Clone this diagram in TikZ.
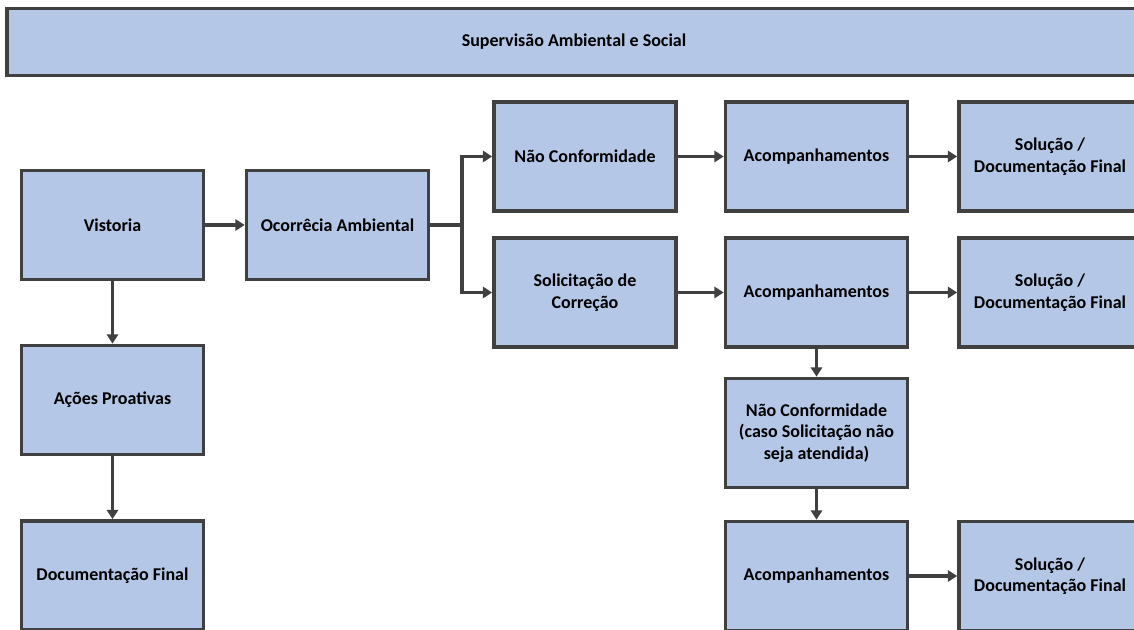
\documentclass[tikz,border=0pt]{standalone}
\usepackage{fontspec}
\setmainfont{Carlito}
\usetikzlibrary{arrows.meta}
\definecolor{boxfill}{HTML}{B4C7E7}
\definecolor{boxline}{HTML}{404040}
\tikzset{
  box/.style={draw=boxline, fill=boxfill, line width=2.8pt, minimum width=182*0.75pt, minimum height=109*0.75pt, inner sep=2pt, align=center, font=\fontsize{13.5}{16.2}\selectfont\bfseries, text=black},
  arr/.style={draw=boxline, line width=2.6pt, -{Triangle[length=7pt,width=8.5pt]}},
  lin/.style={draw=boxline, line width=2.6pt}
}
\begin{document}
\begin{tikzpicture}[x=0.75pt,y=-0.75pt]
\useasboundingbox (0,0) rectangle (1134,630);
\clip (0,0) rectangle (1134,630);
\fill[white] (0,0) rectangle (1134,630);
\node[box, minimum width=1134*0.75pt, minimum height=67*0.75pt] (bar) at (574,42) {Supervisão Ambiental e Social};
\node[box] (vist) at (112.5,225) {Vistoria};
\node[box] (ocor) at (337.5,225) {Ocorrêcia Ambiental};
\node[box] (nc1) at (585,156.5) {Não Conformidade};
\node[box] (sol) at (585,292.5) {Solicitação de\\Correção};
\node[box] (ac1) at (816.5,156.5) {Acompanhamentos};
\node[box] (ac2) at (816.5,292.5) {Acompanhamentos};
\node[box] (nc2) at (816.5,433) {Não Conformidade\\(caso Solicitação não\\seja atendida)};
\node[box] (ac3) at (816.5,576) {Acompanhamentos};
\node[box] (s1) at (1050,156.5) {Solução /\\Documentação Final};
\node[box] (s2) at (1050,292.5) {Solução /\\Documentação Final};
\node[box] (s3) at (1050,576) {Solução /\\Documentação Final};
\node[box] (acoes) at (112.5,400) {Ações Proativas};
\node[box] (doc) at (112.5,575.5) {Documentação Final};
\coordinate (split) at (462,225);
\draw[arr] (vist.east) -- (ocor.west);
\draw[lin] (ocor.east) -- (split);
\draw[arr] (split) |- (nc1.west);
\draw[arr] (split) |- (sol.west);
\draw[arr] (nc1.east) -- (ac1.west);
\draw[arr] (sol.east) -- (ac2.west);
\draw[arr] (ac1.east) -- (s1.west);
\draw[arr] (ac2.east) -- (s2.west);
\draw[arr] (ac2.south) -- (nc2.north);
\draw[arr] (nc2.south) -- (ac3.north);
\draw[arr] (ac3.east) -- (s3.west);
\draw[arr] (vist.south) -- (acoes.north);
\draw[arr] (acoes.south) -- (doc.north);
\end{tikzpicture}
\end{document}
